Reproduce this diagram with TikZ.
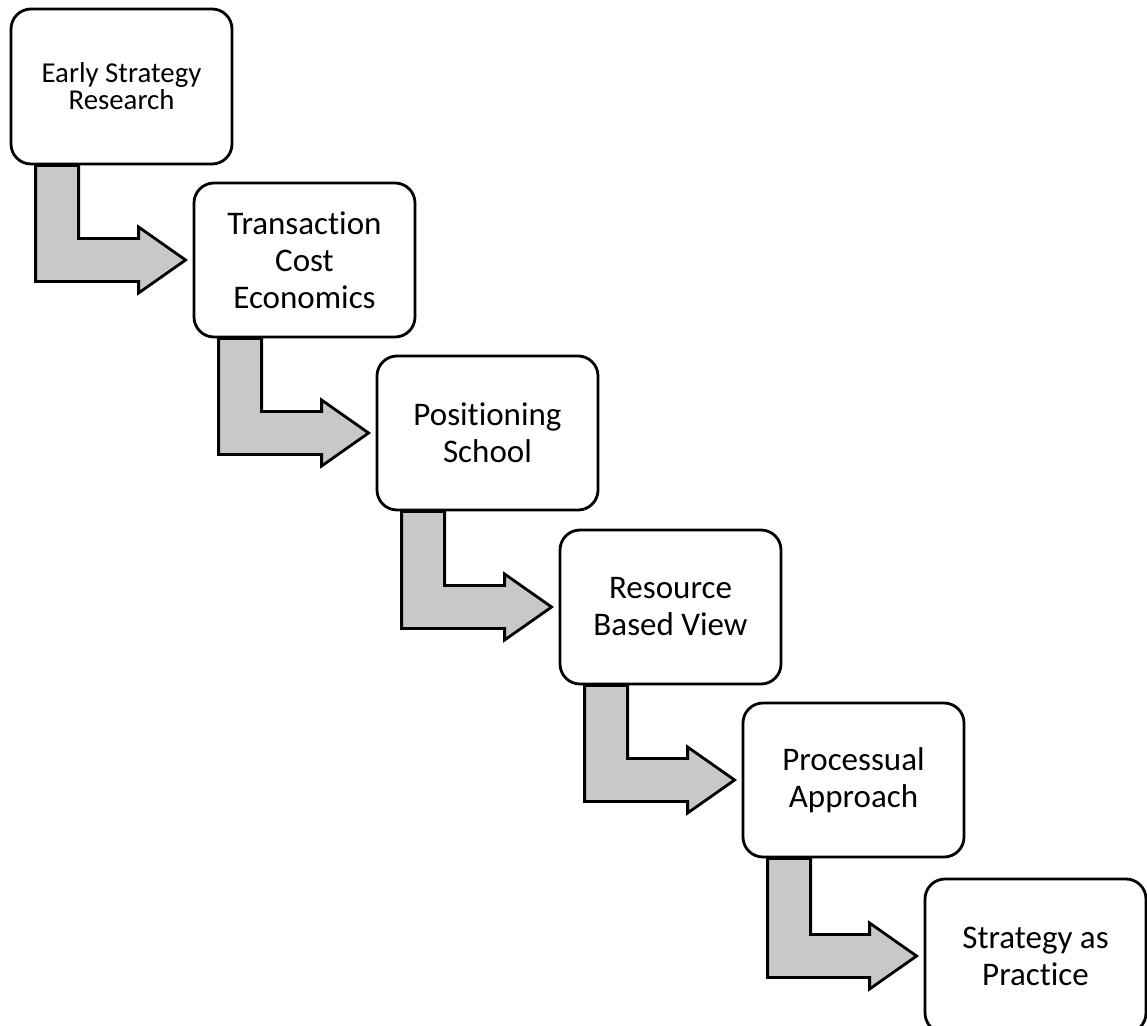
\documentclass[tikz,border=0pt]{standalone}
\usepackage{fontspec}
\setmainfont{Carlito}[Ligatures=NoCommon]
\usetikzlibrary{calc}
\definecolor{stepgray}{RGB}{200,200,200}

\begin{document}
\begin{tikzpicture}[x=1pt, y=-1pt,
        era/.style={draw, line width=2.8pt, rounded corners=20pt, minimum width=221pt, minimum height=154pt, inner sep=0pt, align=center, font=\fontsize{33}{37}\selectfont},
        steparrow/.style={draw, fill=stepgray, line width=2.8pt, line join=miter}]
        \useasboundingbox (0,0) rectangle (1147,1025);

        \node[era, minimum height=155pt, font=\fontsize{28.8}{27}\selectfont] (early) at (121.5, 86.5) {Early Strategy\\Research};
        \node[era] (tce) at (304.5, 260) {Transaction\\Cost\\Economics};
        \node[era] (pos) at (487.5, 433) {Positioning\\School};
        \node[era] (rbv) at (670.5, 607) {Resource\\Based View};
        \node[era] (proc) at (853.5, 780) {Processual\\Approach};
        \node[era] (sap) at (1035.5, 956) {Strategy as\\Practice};

        \foreach \a/\b in {early/tce, tce/pos, pos/rbv, rbv/proc, proc/sap}
            \draw[steparrow] ($(\a.south west)+(26,0)$) -- ($(\a.south west)+(69,0)$)
                |- ($(\b.west)+(-54,-21.5)$) -- ++(0,-11.5) -- ($(\b.west)+(-7,0)$)
                -- ($(\b.west)+(-54,33)$) -- ++(0,-11.5) -| ($(\a.south west)+(26,0)$) -- cycle;
    \end{tikzpicture}
\end{document}
